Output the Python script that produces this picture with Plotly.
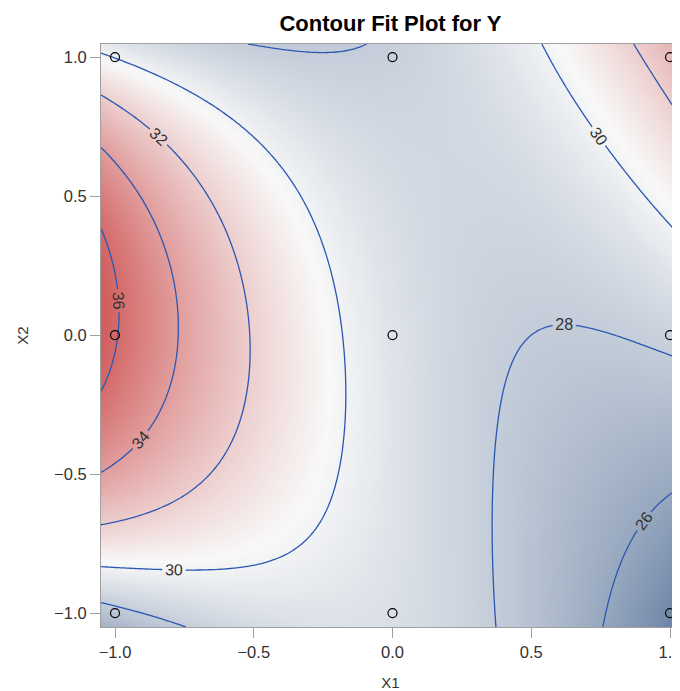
import numpy as np
import plotly.graph_objects as go

x1_design = [-1, 0, 1, -1, 0, 1, -1, 0, 1]
x2_design = [-1, -1, -1, 0, 0, 0, 1, 1, 1]
y_obs = [27.6, 29.0, 24.4, 36.1, 29.2, 28.3, 29.95, 28.22, 32.75]

contour_start = 26
contour_end = 36
contour_step = 2
tick_vals = [-1.0, -0.5, 0.0, 0.5, 1.0]
tick_text = ["\u22121.0", "\u22120.5", "0.0", "0.5", "1.0"]

x_range = [-1.0505, 1.036]
y_range = [-1.05, 1.047]


def basis(a, b):
    return np.column_stack([np.ones_like(a), a, b, a * a, b * b, a * b,
                            a * a * b, a * b * b, a * a * b * b])


# Fit the response-surface model to the observations
Xd = basis(np.array(x1_design, float), np.array(x2_design, float))
coef, *_ = np.linalg.lstsq(Xd, np.array(y_obs, float), rcond=None)

gx = np.linspace(x_range[0], x_range[1], 161)
gy = np.linspace(y_range[0], y_range[1], 161)
GX, GY = np.meshgrid(gx, gy)
Z = (basis(GX.ravel(), GY.ravel()) @ coef).reshape(GX.shape)

font_family = "Liberation Sans, Arial, sans-serif"
ramp = [[0.0, "#667FA2"], [0.5, "#F8F8F8"], [1.0, "#D05B5B"]]

fig = go.Figure()
fig.add_trace(go.Heatmap(
    x=gx, y=gy, z=Z, zsmooth="best", colorscale=ramp,
    zmin=float(Z.min()), zmax=float(Z.max()), showscale=False, hoverinfo="skip"))
fig.add_trace(go.Contour(
    x=gx, y=gy, z=Z, showscale=False, hoverinfo="skip",
    contours=dict(start=contour_start, end=contour_end, size=contour_step,
                  coloring="none", showlabels=True,
                  labelfont=dict(size=16, color="#333333", family=font_family)),
    line=dict(color="#2B57B3", width=1.3, smoothing=1)))
fig.add_trace(go.Scatter(
    x=x1_design, y=x2_design, mode="markers", hoverinfo="skip",
    marker=dict(symbol="circle-open", size=9, color="black", line=dict(width=1.2))))

axis_common = dict(
    tickvals=tick_vals, ticktext=tick_text, ticks="outside", ticklen=10,
    tickcolor="#A0A0A0", showline=True, mirror=True, linecolor="#A0A0A0",
    linewidth=1, showgrid=False, zeroline=False, ticklabeloverflow="allow",
    tickfont=dict(size=16.5, color="#333333", family=font_family))

H = 683
fig.update_layout(
    width=672, height=H,
    margin=dict(l=93, r=0, t=36, b=64),
    paper_bgcolor="white", plot_bgcolor="white",
    showlegend=False,
    title=dict(text="<b>Contour Fit Plot for Y</b>", xref="paper", x=0.5,
               xanchor="center", yref="container", y=1 - 15 / H, yanchor="middle",
               font=dict(size=22, color="black", family=font_family)),
    xaxis=dict(range=x_range, title=dict(text="X1", standoff=17,
               font=dict(size=15, color="#333333", family=font_family)), **axis_common),
    yaxis=dict(range=y_range, title=dict(text="X2", standoff=21,
               font=dict(size=15, color="#333333", family=font_family)), **axis_common),
)

fig.write_html("out.html")
